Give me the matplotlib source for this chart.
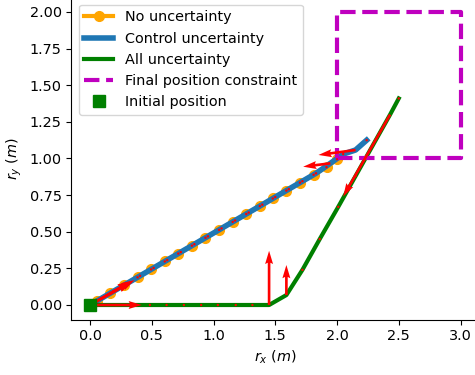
import matplotlib
matplotlib.use("Agg")
import matplotlib.pyplot as plt

plt.rcParams["font.size"] = 10.4

# No uncertainty trajectory
nom_x = [0.0, 0.055, 0.165, 0.275, 0.385, 0.495, 0.605, 0.715, 0.825, 0.935,
         1.045, 1.155, 1.265, 1.375, 1.48, 1.59, 1.70, 1.81, 1.915, 2.0]
nom_y = [0.0, 0.027, 0.081, 0.135, 0.189, 0.243, 0.297, 0.351, 0.405, 0.459,
         0.513, 0.567, 0.621, 0.675, 0.727, 0.781, 0.835, 0.889, 0.941, 0.995]
nom_u = [0.33, 0.0, 0.0, 0.0, 0.0, 0.0, 0.0, 0.0, 0.0, 0.0,
         0.0, 0.0, 0.0, 0.0, 0.0, 0.0, 0.0, 0.0, 0.0, 0.0]
nom_v = [0.16, 0.0, 0.0, 0.0, 0.0, 0.0, 0.0, 0.0, 0.0, 0.0,
         0.0, 0.0, 0.0, 0.0, 0.0, 0.0, 0.0, 0.0, 0.0, 0.0]

# Control uncertainty trajectory
ctl_x = [0.0, 0.075, 0.185, 0.295, 0.405, 0.515, 0.625, 0.735, 0.845, 0.955,
         1.065, 1.175, 1.285, 1.395, 1.50, 1.61, 1.72, 1.83, 1.946, 2.05, 2.15, 2.24]
ctl_y = [0.0, 0.037, 0.091, 0.145, 0.199, 0.253, 0.307, 0.361, 0.415, 0.469,
         0.523, 0.577, 0.631, 0.685, 0.737, 0.791, 0.845, 0.899, 0.967, 1.03, 1.058, 1.125]
ctl_u = [0.36, 0.26, 0.15, 0.0, 0.0, 0.0, 0.0, 0.0, 0.0, 0.0,
         0.0, 0.0, 0.0, 0.0, 0.0, 0.0, 0.0, 0.0, -0.22, 0.0, -0.30, 0.0]
ctl_v = [0.17, 0.12, 0.07, 0.0, 0.0, 0.0, 0.0, 0.0, 0.0, 0.0,
         0.0, 0.0, 0.0, 0.0, 0.0, 0.0, 0.0, 0.0, -0.023, 0.0, -0.034, 0.0]

# All uncertainty trajectory
all_x = [0.0, 0.07, 0.21, 0.345, 0.485, 0.62, 0.76, 0.90, 1.035, 1.18, 1.315,
         1.45, 1.59, 1.72, 1.86, 2.01, 2.15, 2.29, 2.43, 2.50]
all_y = [0.0, 0.0, 0.0, 0.0, 0.0, 0.0, 0.0, 0.0, 0.0, 0.0, 0.0,
         0.0, 0.068, 0.24, 0.45, 0.67, 0.88, 1.09, 1.30, 1.41]
all_u = [0.42, 0.0, 0.0, 0.0, 0.0, 0.0, 0.0, 0.0, 0.0, 0.0, 0.0,
         0.0, 0.0, 0.0, 0.0, 0.0, 0.0, 0.0, -0.38, 0.0]
all_v = [0.0, 0.0, 0.0, 0.0, 0.0, 0.0, 0.0, 0.0, 0.0, 0.0, 0.0,
         0.37, 0.205, 0.0, 0.0, 0.0, 0.0, 0.0, -0.56, 0.0]

# Final position constraint box and initial position
box_x = [2.0, 3.0, 3.0, 2.0, 2.0]
box_y = [1.0, 1.0, 2.0, 2.0, 1.0]
init_x = [0.0]
init_y = [0.0]

fig = plt.figure(figsize=(4.75, 3.75), dpi=100)
ax = fig.add_axes([0.1505, 0.1476, 0.858, 0.8595])

ax.plot(nom_x, nom_y, color="orange", linewidth=3, marker="o", markersize=7,
        label="No uncertainty")
ax.plot(ctl_x, ctl_y, color="#1f77b4", linewidth=4, label="Control uncertainty")
ax.plot(all_x, all_y, color="green", linewidth=3, label="All uncertainty")
ax.plot(box_x, box_y, "m--", linewidth=3, label="Final position constraint")
ax.plot(init_x, init_y, "gs", markersize=8, label="Initial position", zorder=5)

# control inputs drawn as arrows (zero inputs show up as small dots)
for qx, qy, qu, qv in [(nom_x, nom_y, nom_u, nom_v),
                       (ctl_x, ctl_y, ctl_u, ctl_v),
                       (all_x, all_y, all_u, all_v)]:
    ax.quiver(qx, qy, qu, qv, color="red", angles="xy", scale_units="xy",
              scale=1, width=0.0065, zorder=3)

ax.set_xlim(-0.15, 3.15)
ax.set_ylim(-0.1, 2.1)
ax.set_xlabel(r"$r_x\ (m)$")
ax.set_ylabel(r"$r_y\ (m)$")
ax.legend(loc="upper left")

fig.savefig("out.png", dpi=100)
